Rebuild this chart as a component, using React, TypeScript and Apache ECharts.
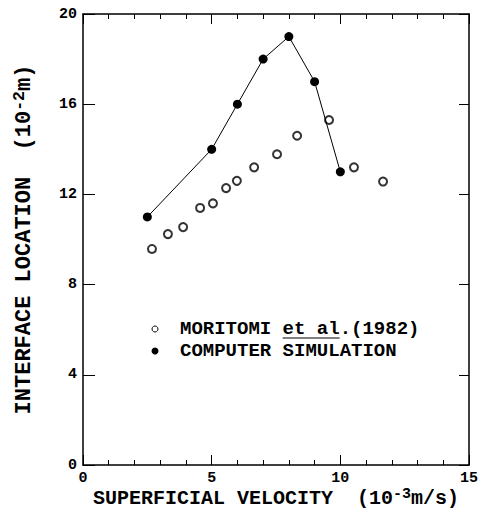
import React, { useEffect, useRef } from "react";
import * as echarts from "echarts";

const simX = [2.5, 5, 6, 7, 8, 9, 10];
const simY = [11.0, 14.0, 16.0, 18.0, 19.0, 17.0, 13.0];
const morX = [2.68, 3.3, 3.89, 4.55, 5.05, 5.56, 5.98, 6.65, 7.54, 8.32, 9.56, 10.53, 11.66];
const morY = [9.58, 10.24, 10.55, 11.4, 11.6, 12.28, 12.6, 13.2, 13.78, 14.6, 15.3, 13.2, 12.57];
const legendNames = ["MORITOMI et al.(1982)", "COMPUTER SIMULATION"];
const underlined = "et al";
const xTicks = [0, 5, 10, 15];
const yTicks = [0, 4, 8, 12, 16, 20];

const FONT = "Liberation Mono";
const LEG_FONT = `bold 19px "${FONT}"`;

function measure(text: string, font: string) {
  const c = document.createElement("canvas").getContext("2d");
  if (!c) return text.length * 11.4;
  c.font = font;
  return c.measureText(text).width;
}

function nameStyle(size: number) {
  return {
    color: "#000",
    fontFamily: FONT,
    fontWeight: "bold",
    fontSize: size,
    rich: {
      p: { color: "#000", fontFamily: FONT, fontWeight: "bold", fontSize: size },
      s: { color: "#000", fontFamily: FONT, fontWeight: "bold", fontSize: size * 0.75, verticalAlign: "top", padding: [0, 0, size * 0.4, 0] },
    },
  };
}

export default function App() {
  const ref = useRef<HTMLDivElement>(null);
  useEffect(() => {
    document.body.style.margin = "0";
    if (!ref.current) return;
    const chart = echarts.init(ref.current, null, { renderer: "svg" });
    const axisLine = { show: true, onZero: false, lineStyle: { color: "#000", width: 1.5 } };
    const legX = 180;
    const pre = legendNames[0].indexOf(underlined);
    const ulStart = legX + measure(legendNames[0].slice(0, pre), LEG_FONT);
    const ulEnd = ulStart + measure(underlined, LEG_FONT);
    chart.setOption({
      animation: false,
      backgroundColor: "#fff",
      grid: { left: 83, right: 21, top: 14, bottom: 47, show: false, outerBoundsMode: "none", containLabel: false },
      xAxis: [
        {
          type: "value",
          min: xTicks[0],
          max: xTicks[xTicks.length - 1],
          interval: 5,
          position: "bottom",
          axisLine,
          axisTick: { show: true, inside: true, length: 10, lineStyle: { color: "#000", width: 1 } },
          minorTick: { show: true, splitNumber: 5, length: 5, lineStyle: { color: "#000", width: 1 } },
          splitLine: { show: false },
          axisLabel: { color: "#000", fontFamily: FONT, fontWeight: "bold", fontSize: 15, margin: 6 },
          name: "SUPERFICIAL VELOCITY  {p|(10}{s|-3}{p|m/s)}",
          nameLocation: "middle",
          nameMoveOverlap: false,
          nameGap: 22,
          nameTextStyle: nameStyle(20),
        },
        {
          type: "value",
          min: xTicks[0],
          max: xTicks[xTicks.length - 1],
          interval: 5,
          position: "top",
          axisLine,
          axisTick: { show: true, inside: true, length: 10, lineStyle: { color: "#000", width: 1 } },
          minorTick: { show: true, splitNumber: 5, length: 5, lineStyle: { color: "#000", width: 1 } },
          splitLine: { show: false },
          axisLabel: { show: false },
        },
      ],
      yAxis: [
        {
          type: "value",
          min: yTicks[0],
          max: yTicks[yTicks.length - 1],
          interval: 4,
          position: "left",
          axisLine,
          axisTick: { show: true, inside: true, length: 12, lineStyle: { color: "#000", width: 1 } },
          splitLine: { show: false },
          axisLabel: { color: "#000", fontFamily: FONT, fontWeight: "bold", fontSize: 15, margin: 6 },
          name: "INTERFACE LOCATION  {p|(10}{s|-2}{p|m)}",
          nameLocation: "middle",
          nameMoveOverlap: false,
          nameGap: 46,
          nameTextStyle: nameStyle(22),
        },
        {
          type: "value",
          min: yTicks[0],
          max: yTicks[yTicks.length - 1],
          interval: 4,
          position: "right",
          axisLine,
          axisTick: { show: true, inside: true, length: 10, lineStyle: { color: "#000", width: 1 } },
          splitLine: { show: false },
          axisLabel: { show: false },
        },
      ],
      series: [
        {
          name: legendNames[0],
          type: "scatter",
          symbol: "emptyCircle",
          symbolSize: 8,
          itemStyle: { color: "#000", borderColor: "#000", borderWidth: 1 },
          data: morX.map((x, i) => [x, morY[i]]),
        },
        {
          name: legendNames[1],
          type: "line",
          symbol: "circle",
          symbolSize: 9,
          lineStyle: { color: "#000", width: 1 },
          itemStyle: { color: "#000" },
          data: simX.map((x, i) => [x, simY[i]]),
        },
      ],
      graphic: [
        { type: "circle", shape: { cx: 155, cy: 329, r: 3 }, style: { fill: "#fff", stroke: "#000", lineWidth: 1 } },
        { type: "circle", shape: { cx: 155, cy: 351, r: 3.5 }, style: { fill: "#000" } },
        {
          type: "text",
          x: legX,
          y: 329,
          style: { text: legendNames[0], fill: "#000", font: LEG_FONT, verticalAlign: "middle" },
        },
        {
          type: "text",
          x: legX,
          y: 351,
          style: { text: legendNames[1], fill: "#000", font: LEG_FONT, verticalAlign: "middle" },
        },
        { type: "line", shape: { x1: ulStart, y1: 338, x2: ulEnd, y2: 338 }, style: { stroke: "#000", lineWidth: 1 } },
      ],
    });
    return () => chart.dispose();
  }, []);
  return <div ref={ref} style={{ width: 490, height: 512 }} />;
}
